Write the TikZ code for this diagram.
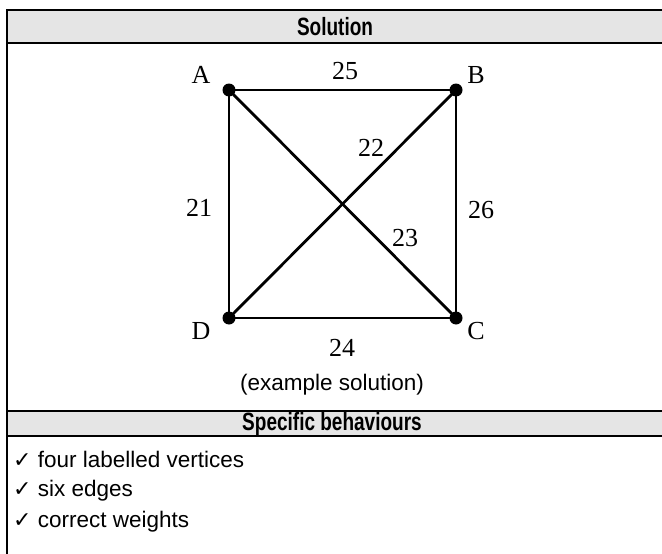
\documentclass[tikz,border=0pt]{standalone}
\usepackage{fontspec}
\usepackage{graphicx}
\setmainfont{Liberation Sans}
\newfontfamily\graphfont{Liberation Serif}
\newfontfamily\symfont{DejaVu Sans}
\newcommand{\hdtext}[1]{\scalebox{0.76}[1]{\bfseries #1}}
\newcommand{\tick}{{\symfont\fontsize{22}{24}\selectfont ✓}}
\begin{document}
\begin{tikzpicture}[x=1pt,y=-1pt,
  tabline/.style={line width=2pt},
  edge/.style={line width=2.8pt},
  vtx/.style={circle,fill=black,inner sep=0pt,minimum size=13pt},
  glabel/.style={font=\graphfont\fontsize{26}{30}\selectfont,inner sep=0pt},
  ttext/.style={font=\fontsize{22.5}{26}\selectfont,inner sep=0pt},
  thead/.style={font=\fontsize{25}{29}\selectfont,inner sep=0pt}]
\useasboundingbox (0,0) rectangle (662,554);
% table
\fill[gray!20] (7,10) rectangle (670,43);
\fill[gray!20] (7,411) rectangle (670,436);
\draw[tabline] (7,10) -- (670,10);
\draw[tabline] (7,43) -- (670,43);
\draw[tabline] (7,411) -- (670,411);
\draw[tabline] (7,436) -- (670,436);
\draw[tabline] (7,9) -- (7,560);
\node[thead] (h1) at (335,27) {\hdtext{Solution}};
\node[ttext] (cap) at (332,385) {(example solution)};
\node[thead] (h2) at (332,424) {\hdtext{Specific behaviours}};
\node[ttext,anchor=west] (l1) at (13,459) {\tick\ four labelled vertices};
\node[ttext,anchor=west] (l2) at (13,491) {\tick\ six edges};
\node[ttext,anchor=west] (l3) at (13,522) {\tick\ correct weights};
% graph
\node[vtx] (A) at (229,90) {};
\node[vtx] (B) at (456,90) {};
\node[vtx] (C) at (456,318) {};
\node[vtx] (D) at (229,318) {};
\draw[edge] (A.center) -- (B.center) -- (C.center) -- (D.center) -- cycle;
\draw[edge] (A.center) -- (C.center);
\draw[edge] (B.center) -- (D.center);
\node[glabel] (la) at (201,75) {A};
\node[glabel] (lb) at (476,75) {B};
\node[glabel] (lc) at (476,331) {C};
\node[glabel] (ld) at (201,331) {D};
\node[glabel] (w25) at (345,71) {25};
\node[glabel] (w21) at (199,208) {21};
\node[glabel] (w26) at (481,210) {26};
\node[glabel] (w22) at (371,148) {22};
\node[glabel] (w23) at (405,238) {23};
\node[glabel] (w24) at (342,348) {24};
\end{tikzpicture}
\end{document}
